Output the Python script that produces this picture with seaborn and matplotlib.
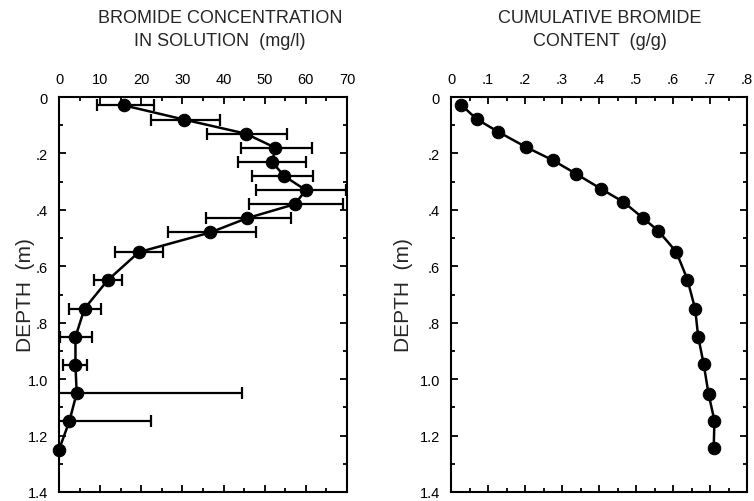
import numpy as np
import pandas as pd
import matplotlib
matplotlib.use("Agg")
import matplotlib.pyplot as plt
from matplotlib.ticker import MultipleLocator, FuncFormatter
import seaborn as sns

# ---- data ----
depth = [0.03, 0.08, 0.13, 0.18, 0.23, 0.28, 0.33, 0.38, 0.43, 0.48,
         0.55, 0.65, 0.75, 0.85, 0.95, 1.05, 1.15, 1.25]
conc = [15.9, 30.4, 45.4, 52.6, 51.8, 54.7, 60.0, 57.3, 45.6, 36.8,
        19.4, 11.8, 6.2, 4.0, 4.0, 4.3, 2.5, 0.0]
conc_low = [9.2, 22.3, 35.9, 44.2, 43.4, 47.0, 47.8, 46.2, 35.7, 26.6,
            13.6, 8.5, 2.5, 0.2, 1.0, -5.0, -3.0, 0.0]
conc_high = [23.1, 39.1, 55.5, 61.6, 60.1, 61.8, 69.7, 69.0, 56.5, 47.9,
             25.2, 15.4, 10.2, 8.0, 6.9, 44.4, 22.3, 0.0]
cum = [0.027, 0.069, 0.127, 0.202, 0.275, 0.339, 0.406, 0.466, 0.518, 0.560,
       0.609, 0.639, 0.660, 0.668, 0.683, 0.696, 0.712, 0.710]
depth_cum = [0.027, 0.078, 0.123, 0.177, 0.224, 0.273, 0.326, 0.372, 0.428, 0.474,
             0.549, 0.647, 0.752, 0.849, 0.947, 1.052, 1.147, 1.244]

title_left = "BROMIDE CONCENTRATION\nIN SOLUTION  (mg/l)"
title_right = "CUMULATIVE BROMIDE\nCONTENT  (g/g)"
ylabel = "DEPTH  (m)"

sns.set_style("ticks")
plt.rcParams["font.family"] = ["Liberation Sans Narrow", "Liberation Sans", "DejaVu Sans"]

fig = plt.figure(figsize=(7.54, 5.02), dpi=100)
ax1 = fig.add_axes([59/754, 1-493/502, 288/754, 395/502])
ax2 = fig.add_axes([451/754, 1-493/502, 296/754, 395/502])

df1 = pd.DataFrame({"conc": conc, "depth": depth})
df2 = pd.DataFrame({"cum": cum, "depth": depth_cum})

c = np.array(conc)
xerr = np.vstack([c - np.array(conc_low), np.array(conc_high) - c])
ax1.errorbar(conc, depth, xerr=xerr, fmt="none", ecolor="black",
             elinewidth=1.6, capsize=4, capthick=1.6, zorder=2)
sns.lineplot(data=df1, x="conc", y="depth", sort=False, orient="y", ax=ax1,
             color="black", linewidth=1.8, marker="o", markersize=9,
             markeredgecolor="black", markerfacecolor="black", zorder=3,
             clip_on=False)
sns.lineplot(data=df2, x="cum", y="depth", sort=False, orient="y", ax=ax2,
             color="black", linewidth=1.8, marker="o", markersize=9,
             markeredgecolor="black", markerfacecolor="black", zorder=3,
             clip_on=False)

def yfmt(v, pos):
    if abs(v) < 1e-9:
        return "0"
    if v < 1 - 1e-9:
        return ("%.1f" % v)[1:]
    return "%.1f" % v

def xfmt2(v, pos):
    if abs(v) < 1e-9:
        return "0"
    return ("%.1f" % v)[1:]

for ax, xmax, xmaj, xmin, lx in [(ax1, 70, 10, 5, -0.085), (ax2, 0.8, 0.1, 0.05, -0.127)]:
    ax.set_xlim(0, xmax)
    ax.set_ylim(1.4, 0)
    ax.xaxis.tick_top()
    ax.xaxis.set_major_locator(MultipleLocator(xmaj))
    ax.xaxis.set_minor_locator(MultipleLocator(xmin))
    ax.yaxis.set_major_locator(MultipleLocator(0.2))
    ax.yaxis.set_minor_locator(MultipleLocator(0.1))
    ax.yaxis.set_major_formatter(FuncFormatter(yfmt))
    ax.tick_params(which="both", direction="in", top=True, bottom=True,
                   left=True, right=True, labeltop=True, labelbottom=False,
                   width=1.3, colors="black", labelsize=10.5)
    ax.tick_params(which="major", length=5, pad=8)
    ax.tick_params(which="minor", length=3)
    for s in ax.spines.values():
        s.set_visible(True)
        s.set_linewidth(1.5)
        s.set_color("black")
    ax.set_xlabel("")
    ax.set_ylabel(ylabel, fontsize=15)
    ax.yaxis.set_label_coords(lx, 0.5)

ax2.xaxis.set_major_formatter(FuncFormatter(xfmt2))

fig.text(220/754, 1-30/502, title_left, ha="center", va="center",
         fontsize=13, linespacing=1.5)
fig.text(600/754, 1-30/502, title_right, ha="center", va="center",
         fontsize=13, linespacing=1.5)

fig.savefig("out.png", dpi=100)
